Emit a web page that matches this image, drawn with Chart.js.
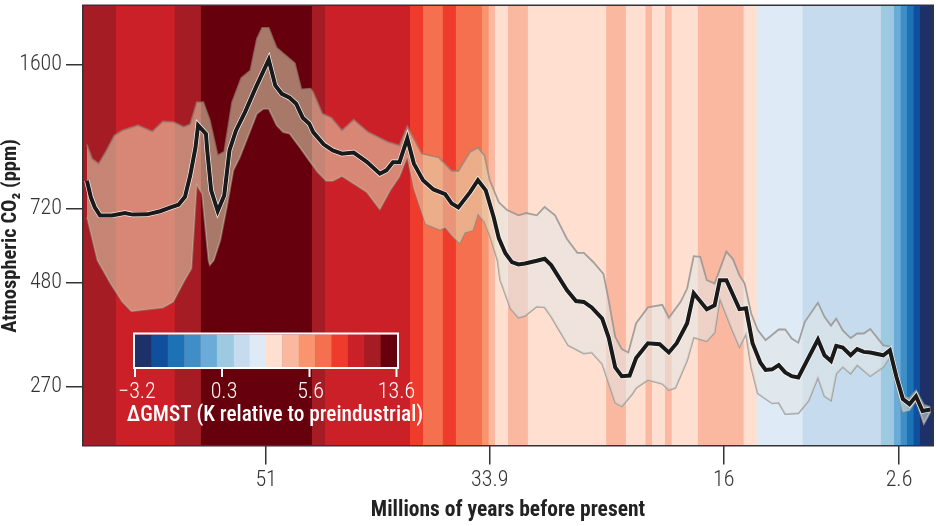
<!DOCTYPE html>
<html><head><meta charset="utf-8">
<style>html,body{margin:0;padding:0;background:#fff}canvas{display:block}</style>
<script src="https://cdn.jsdelivr.net/npm/chart.js@4"></script>
</head><body><canvas id="c" width="936" height="526"></canvas>
<script>
const palette=['#1e3068','#0f4f9d','#1c72b5','#3f8fc6','#6aabd8','#9dcae1','#c6dbed','#deeaf6','#fedfd0','#fbb8a0','#f9946f','#f4704f','#ef3b2c','#cb2027','#a51c24','#67000d'];
const legendLabels=['\u22123.2','0.3','5.6','13.6'];
const stripeEdges=[65,62.5,58,56,47.5,46.5,40,39,37.5,36.5,34.5,34,33.5,32.5,31,25,23.5,22,21.5,20.5,20,18,14.5,13.5,10,4,3,2.5,2,1.5,1,0];
const stripeColor=[14,13,14,15,14,13,12,11,12,11,10,9,8,9,8,9,8,9,8,9,8,9,8,7,6,5,4,3,2,1,0];
const xTicks=[51,33.9,16,2.6];
const yTicks=[270,480,720,1600];
const meanAges=[64.7,64.4,64.1,63.7,62.8,61.8,61.2,60.1,59.1,58.3,57.7,57.2,56.8,56.4,56.2,55.6,55.5,55.2,54.7,54.2,53.8,53.3,52.6,51.8,50.8,50.3,49.8,49.2,48.7,48.2,47.7,47.4,46.6,45.9,45.2,44.3,43.3,42.3,41.8,41.3,40.8,40.2,39.7,39.0,38.2,37.3,36.8,36.3,35.4,34.8,34.2,33.6,33.2,32.7,32.2,31.7,31.2,30.3,29.7,29.2,28.0,27.3,26.7,26.1,25.3,24.8,24.3,23.8,23.2,22.7,21.8,20.9,20.2,19.6,18.8,18.3,17.3,16.7,16.3,15.8,14.8,14.3,13.8,13.2,12.8,12.3,11.8,11.3,10.8,10.3,8.8,8.3,7.8,7.4,6.9,6.3,5.8,5.3,4.8,3.8,3.3,2.8,2.3,1.8,1.3,0.8,0.2];
const meanCO2=[842,768,727,695,695,704,698,699,711,726,737,770,867,1010,1143,1090,995,798,712,776,995,1111,1231,1405,1642,1425,1360,1331,1288,1192,1153,1101,1029,995,977,983,934,875,891,932,932,1062,925,844,802,781,742,726,790,844,798,689,612,564,537,530,533,541,547,528,460,433,431,418,393,354,300,286,287,316,343,341,326,343,383,452,414,423,486,486,414,416,343,308,296,297,304,292,286,284,350,321,311,338,335,321,332,327,326,321,330,285,252,245,256,236,238];
const upperAges=[64.7,64.3,63.8,63.2,62.6,62.0,60.8,59.7,58.9,58.1,57.3,56.8,56.3,55.8,55.3,54.7,54.2,53.6,52.9,52.2,51.7,51.3,50.8,50.2,48.8,48.3,47.6,47.4,46.7,46.0,45.2,44.3,43.2,41.7,40.8,40.2,39.1,37.8,36.8,36.3,35.4,34.8,34.3,33.9,33.2,32.6,31.7,31.1,30.3,29.7,28.9,28.0,27.2,26.7,26.0,25.2,24.8,24.3,23.8,23.3,22.7,21.8,20.7,20.2,19.3,18.8,18.3,17.8,17.3,16.7,15.8,15.3,14.8,14.4,13.9,13.4,12.8,11.8,11.3,10.8,10.3,9.8,8.8,8.3,7.8,7.4,6.9,6.3,5.8,5.3,4.8,3.8,3.3,2.8,2.3,1.8,1.3,0.7,0.2];
const upperCO2=[1028,950,925,995,1081,1111,1143,1105,1168,1164,1133,1149,1299,1299,1175,968,987,1299,1483,1548,1844,1958,1958,1755,1610,1394,1400,1372,1219,1192,1111,1179,1101,1043,1023,1136,978,957,888,888,987,1010,968,844,747,717,695,704,695,728,695,611,565,565,538,503,435,355,332,326,383,418,424,395,431,464,555,553,486,477,569,546,499,477,404,369,349,370,370,352,344,386,429,397,378,393,368,353,362,362,371,339,337,293,256,253,264,244,241];
const lowerAges=[64.7,63.9,62.9,62.0,61.3,60.1,58.9,58.1,57.3,56.7,56.3,55.9,55.4,55.3,55.0,54.5,54.0,53.5,53.0,51.7,51.2,50.8,50.2,49.7,49.2,48.4,47.9,47.1,46.4,45.9,45.2,44.3,43.3,42.3,41.5,40.8,40.2,39.7,38.8,37.7,37.3,36.8,36.2,35.8,35.2,34.8,34.3,33.9,33.3,33.1,32.3,31.7,31.2,30.3,29.7,29.2,27.9,26.7,26.1,25.3,24.8,24.3,23.8,23.0,22.7,21.8,20.7,20.2,19.7,18.8,18.3,17.3,16.7,16.3,15.4,14.8,14.3,13.9,13.4,12.3,11.8,11.3,10.3,9.5,8.8,8.3,7.8,7.4,6.9,6.3,5.8,4.8,3.8,3.3,2.8,2.3,1.8,1.3,0.7,0.2];
const lowerCO2=[688,542,477,431,409,413,417,431,481,518,821,783,542,528,542,606,728,891,959,1218,1252,1252,1143,1101,1091,1010,960,885,840,840,863,828,790,718,798,860,960,805,663,642,651,623,596,632,640,702,670,623,542,486,415,395,399,420,418,397,339,324,326,306,275,247,242,259,268,280,274,265,268,312,354,347,364,439,372,336,361,300,260,246,247,232,233,250,284,256,250,290,301,290,304,286,301,318,269,235,237,250,220,235];
const ageMin=0, ageMax=65, co2Min=195, co2Max=2215;
const yTitleText='Atmospheric CO\u2082 (ppm)';

const FONT='Roboto,"Liberation Sans",sans-serif';
const zip=(a,b)=>a.map((x,i)=>({x,y:b[i]}));

const cv=document.getElementById('c');
const gx=cv.getContext('2d');
const bandFill=gx.createLinearGradient(83,0,933,0);
bandFill.addColorStop(0,'rgba(228,230,190,0.52)');
bandFill.addColorStop(0.47,'rgba(228,230,190,0.52)');
bandFill.addColorStop(0.5,'rgba(226,230,230,0.55)');
bandFill.addColorStop(1,'rgba(226,230,230,0.55)');
const bandEdge=gx.createLinearGradient(83,0,933,0);
bandEdge.addColorStop(0,'rgba(150,115,105,0.7)');
bandEdge.addColorStop(0.4,'rgba(150,120,110,0.7)');
bandEdge.addColorStop(0.5,'rgba(150,148,145,0.85)');
bandEdge.addColorStop(1,'rgba(150,148,145,0.85)');

const stripes=stripeColor.map((c,i)=>({
  type:'line',label:'stripe '+i,
  data:[{x:stripeEdges[i],y:co2Max},{x:stripeEdges[i+1]-0.05,y:co2Max}],
  backgroundColor:palette[c],borderWidth:0,pointRadius:0,fill:'start',order:500-i
}));

const framePlugin={id:'frame',afterDatasetsDraw(ch){
  const a=ch.chartArea,g=ch.ctx;g.save();
  g.strokeStyle='#333338';g.lineWidth=1.5;
  g.strokeRect(a.left-0.25,a.top-0.25,a.right-a.left+0.5,a.bottom-a.top+0.5);
  g.restore();
}};
const yTitlePlugin={id:'yTitle',afterDraw(ch){
  const g=ch.ctx;g.save();
  g.translate(11,236);g.rotate(-Math.PI/2);
  g.fillStyle='#222';g.textAlign='center';g.textBaseline='middle';
  g.font='condensed bold 20.5px '+FONT;
  g.fillText(yTitleText,0,0);
  g.restore();
}};
const legendPlugin={id:'stripeLegend',afterDraw(ch){
  const g=ch.ctx;g.save();
  const L=135,R=397,T=334.5,B=367,w=(R-L)/palette.length;
  palette.forEach((c,i)=>{g.fillStyle=c;g.fillRect(L+i*w,T,w+0.4,B-T);});
  g.strokeStyle='#fff';g.lineWidth=2;g.strokeRect(L-1,T-1,R-L+2,B-T+2);
  const tx=[135,222,309.5,396.5],lx=[137,224,310.5,396.5];
  g.lineWidth=2;
  g.fillStyle='#fff';g.textAlign='center';g.textBaseline='alphabetic';
  g.font='condensed 300 22px '+FONT;
  legendLabels.forEach((t,i)=>{
    g.beginPath();g.moveTo(tx[i],B+1);g.lineTo(tx[i],377);g.stroke();
    g.fillText(t,lx[i],397.5);
  });
  g.font='condensed 500 21.3px '+FONT;
  g.fillText('\u0394GMST (K relative to preindustrial)',275,421);
  g.restore();
}};
const tickFont={family:FONT,size:22,weight:'condensed 300'};
const titleFont={family:FONT,size:21.5,weight:'condensed bold'};

new Chart(cv,{
  type:'line',
  data:{datasets:[
    {label:'CO2 mean',data:zip(meanAges,meanCO2),borderColor:'#1a1a1a',borderWidth:4,pointRadius:0,fill:false,tension:0,order:0},
    {label:'CO2 mean halo',data:zip(meanAges,meanCO2),borderColor:'rgba(255,255,255,0.9)',borderWidth:5.4,pointRadius:0,fill:false,tension:0,order:1},
    {label:'CO2 upper',data:zip(upperAges,upperCO2),borderColor:bandEdge,borderWidth:1.8,pointRadius:0,tension:0,
     backgroundColor:bandFill,fill:{target:3},order:2},
    {label:'CO2 lower',data:zip(lowerAges,lowerCO2),borderColor:bandEdge,borderWidth:1.8,pointRadius:0,tension:0,fill:false,order:3},
    ...stripes
  ]},
  plugins:[framePlugin,yTitlePlugin,legendPlugin],
  options:{
    responsive:false,animation:false,devicePixelRatio:1,
    layout:{padding:{top:5.5,right:3,left:0,bottom:0}},
    plugins:{legend:{display:false},tooltip:{enabled:false}},
    scales:{
      x:{type:'linear',reverse:true,min:ageMin,max:ageMax,
        afterBuildTicks(s){s.ticks=xTicks.map(v=>({value:v}));},
        afterFit(s){s.height=80.5;s.paddingLeft=0;s.paddingRight=0;},
        grid:{drawOnChartArea:false,drawTicks:true,tickLength:19,color:'#333338',lineWidth:1.5},
        border:{display:false},
        ticks:{autoSkip:false,maxRotation:0,padding:3,color:'#333',font:tickFont,callback:v=>String(v)},
        title:{display:true,text:'Millions of years before present',color:'#222',font:titleFont,padding:{top:0,bottom:2}}
      },
      y:{type:'logarithmic',min:co2Min,max:co2Max,
        afterBuildTicks(s){s.ticks=yTicks.map(v=>({value:v}));},
        afterFit(s){s.width=83;s.paddingTop=0;s.paddingBottom=0;},
        grid:{drawOnChartArea:false,drawTicks:true,tickLength:17,color:'#333338',lineWidth:1.5},
        border:{display:false},
        ticks:{autoSkip:false,padding:4,color:'#333',font:tickFont,callback:v=>String(v)},
        title:{display:false}
      }
    }
  }
});
</script></body></html>
